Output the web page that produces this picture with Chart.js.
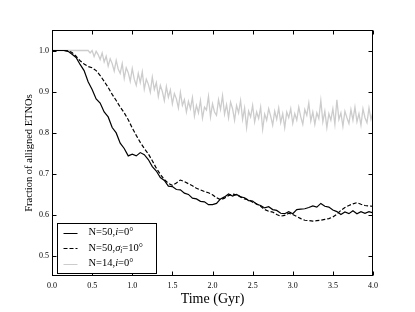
<!DOCTYPE html>
<html>
<head>
<meta charset="utf-8">
<script src="https://cdn.jsdelivr.net/npm/chart.js@4.4.1/dist/chart.umd.min.js"></script>
<style>
  html, body { margin: 0; padding: 0; background: #fff; }
  canvas { display: block; }
</style>
</head>
<body>
<canvas id="chart" width="415" height="312"></canvas>
<script>
// time axis for the two N=50 runs (Gyr)
const timeBlack = [
  0.00, 0.05, 0.10, 0.15, 0.20, 0.25, 0.30, 0.35, 0.40, 0.45,
  0.50, 0.55, 0.60, 0.65, 0.70, 0.75, 0.80, 0.85, 0.90, 0.95,
  1.00, 1.05, 1.10, 1.15, 1.20, 1.25, 1.30, 1.35, 1.40, 1.45,
  1.50, 1.55, 1.60, 1.65, 1.70, 1.75, 1.80, 1.85, 1.90, 1.95,
  2.00, 2.05, 2.10, 2.15, 2.20, 2.25, 2.30, 2.35, 2.40, 2.45,
  2.50, 2.55, 2.60, 2.65, 2.70, 2.75, 2.80, 2.85, 2.90, 2.95,
  3.00, 3.05, 3.10, 3.15, 3.20, 3.25, 3.30, 3.35, 3.40, 3.45,
  3.50, 3.55, 3.60, 3.65, 3.70, 3.75, 3.80, 3.85, 3.90, 3.95,
  4.00
];
// N=50, i=0
const fracSolid = [
  1.000, 1.000, 1.000, 1.000, 0.998, 0.991, 0.983, 0.966, 0.951, 0.924,
  0.905, 0.882, 0.872, 0.850, 0.838, 0.812, 0.799, 0.774, 0.761, 0.743,
  0.747, 0.743, 0.751, 0.746, 0.734, 0.717, 0.706, 0.690, 0.683, 0.669,
  0.668, 0.661, 0.660, 0.652, 0.649, 0.640, 0.638, 0.632, 0.631, 0.624,
  0.624, 0.627, 0.638, 0.643, 0.650, 0.645, 0.649, 0.643, 0.641, 0.634,
  0.633, 0.625, 0.622, 0.616, 0.619, 0.612, 0.610, 0.603, 0.602, 0.607,
  0.602, 0.612, 0.613, 0.614, 0.617, 0.621, 0.618, 0.627, 0.620, 0.618,
  0.611, 0.607, 0.600, 0.606, 0.602, 0.609, 0.602, 0.607, 0.603, 0.607,
  0.604
];
// N=50, sigma_i=10
const fracDashed = [
  1.000, 1.000, 1.000, 1.000, 0.999, 0.995, 0.986, 0.975, 0.967, 0.961,
  0.958, 0.951, 0.939, 0.925, 0.910, 0.893, 0.878, 0.862, 0.848, 0.831,
  0.811, 0.793, 0.776, 0.761, 0.748, 0.731, 0.713, 0.698, 0.685, 0.676,
  0.671, 0.677, 0.684, 0.680, 0.675, 0.670, 0.664, 0.660, 0.656, 0.653,
  0.648, 0.641, 0.636, 0.640, 0.646, 0.650, 0.648, 0.643, 0.638, 0.636,
  0.630, 0.626, 0.620, 0.612, 0.608, 0.606, 0.600, 0.596, 0.598, 0.603,
  0.600, 0.595, 0.590, 0.586, 0.585, 0.584, 0.585, 0.586, 0.588, 0.590,
  0.594, 0.601, 0.610, 0.617, 0.622, 0.626, 0.629, 0.625, 0.622, 0.621,
  0.620
];
// time axis for the N=14 run (Gyr)
const timeGray = [
  0.000, 0.100, 0.200, 0.300, 0.400,
  0.450, 0.475, 0.500, 0.525, 0.550, 0.575, 0.600, 0.625, 0.650, 0.675,
  0.700, 0.725, 0.750, 0.775, 0.800, 0.825, 0.850, 0.875, 0.900, 0.925,
  0.950, 0.975, 1.000, 1.025, 1.050, 1.075, 1.100, 1.125, 1.150, 1.175,
  1.200, 1.225, 1.250, 1.275, 1.300, 1.325, 1.350, 1.375, 1.400, 1.425,
  1.450, 1.475, 1.500, 1.525, 1.550, 1.575, 1.600, 1.625, 1.650, 1.675,
  1.700, 1.725, 1.750, 1.775, 1.800, 1.825, 1.850, 1.875, 1.900, 1.925,
  1.950, 1.975, 2.000, 2.025, 2.050, 2.075, 2.100, 2.125, 2.150, 2.175,
  2.200, 2.225, 2.250, 2.275, 2.300, 2.325, 2.350, 2.375, 2.400, 2.425,
  2.450, 2.475, 2.500, 2.525, 2.550, 2.575, 2.600, 2.625, 2.650, 2.675,
  2.700, 2.725, 2.750, 2.775, 2.800, 2.825, 2.850, 2.875, 2.900, 2.925,
  2.950, 2.975, 3.000, 3.025, 3.050, 3.075, 3.100, 3.125, 3.150, 3.175,
  3.200, 3.225, 3.250, 3.275, 3.300, 3.325, 3.350, 3.375, 3.400, 3.425,
  3.450, 3.475, 3.500, 3.525, 3.550, 3.575, 3.600, 3.625, 3.650, 3.675,
  3.700, 3.725, 3.750, 3.775, 3.800, 3.825, 3.850, 3.875, 3.900, 3.925,
  3.950, 3.975, 4.000
];
// N=14, i=0
const fracGray = [
  1.000, 1.000, 1.000, 1.000, 1.000,
  1.000, 0.994, 1.000, 0.985, 0.998, 0.990, 0.978, 0.994, 0.972, 0.986,
  0.962, 0.980, 0.968, 0.950, 0.976, 0.955, 0.944, 0.968, 0.932, 0.958,
  0.946, 0.925, 0.956, 0.930, 0.915, 0.944, 0.922, 0.948, 0.906, 0.930,
  0.918, 0.898, 0.935, 0.905, 0.922, 0.888, 0.915, 0.900, 0.878, 0.912,
  0.886, 0.904, 0.870, 0.895, 0.882, 0.860, 0.898, 0.866, 0.880, 0.850,
  0.876, 0.858, 0.885, 0.840, 0.866, 0.848, 0.878, 0.835, 0.862, 0.855,
  0.888, 0.838, 0.870, 0.850, 0.842, 0.880, 0.856, 0.890, 0.845, 0.868,
  0.836, 0.874, 0.858, 0.830, 0.866, 0.848, 0.878, 0.832, 0.860, 0.812,
  0.852, 0.838, 0.866, 0.826, 0.850, 0.834, 0.862, 0.808, 0.845, 0.830,
  0.858, 0.840, 0.818, 0.852, 0.832, 0.860, 0.824, 0.846, 0.812, 0.850,
  0.836, 0.858, 0.822, 0.846, 0.830, 0.862, 0.838, 0.820, 0.856, 0.842,
  0.872, 0.828, 0.850, 0.820, 0.848, 0.834, 0.878, 0.826, 0.852, 0.812,
  0.846, 0.830, 0.858, 0.820, 0.880, 0.832, 0.848, 0.815, 0.852, 0.836,
  0.822, 0.856, 0.830, 0.862, 0.826, 0.846, 0.818, 0.858, 0.836, 0.824,
  0.860, 0.832, 0.850
];

const xTicks = [0.0, 0.5, 1.0, 1.5, 2.0, 2.5, 3.0, 3.5, 4.0];
const yTicks = [0.5, 0.6, 0.7, 0.8, 0.9, 1.0];

const seriesLabels = ['N=50,i=0°', 'N=50,σi=10°', 'N=14,i=0°'];
// same labels split into pieces so the legend can set italics / subscript
const legendParts = [
  [{ text: 'N=50,' }, { text: 'i', italic: true }, { text: '=0°' }],
  [{ text: 'N=50,' }, { text: 'σ', italic: true }, { text: 'i', italic: true, sub: true }, { text: '=10°' }],
  [{ text: 'N=14,' }, { text: 'i', italic: true }, { text: '=0°' }]
];

const SERIF = '"Liberation Serif", "Times New Roman", serif';
const GRAY = '#cccccc';

function toPoints(xs, ys) {
    return xs.map((x, i) => ({ x: x, y: ys[i] }));
}

function drawRich(ctx, parts, x, y, size) {
    parts.forEach(p => {
        const s = p.sub ? size * 0.7 : size;
        ctx.font = (p.italic ? 'italic ' : '') + s + 'px ' + SERIF;
        ctx.fillText(p.text, x, p.sub ? y + size * 0.28 : y);
        x += ctx.measureText(p.text).width;
    });
}

// box around the plot + inward ticks on all four sides
const frameAndTicks = {
    id: 'frameAndTicks',
    afterDatasetsDraw(chart) {
        const { ctx, chartArea: a, scales } = chart;
        const L = Math.round(a.left) + 0.5, R = Math.round(a.right) - 0.5;
        const T = Math.round(a.top) + 0.5, B = Math.round(a.bottom) - 0.5;
        ctx.save();
        ctx.strokeStyle = '#000';
        ctx.lineWidth = 1;
        ctx.beginPath();
        xTicks.forEach(v => {
            const px = Math.round(scales.x.getPixelForValue(v)) + 0.5;
            ctx.moveTo(px, B); ctx.lineTo(px, B - 4);
            ctx.moveTo(px, T); ctx.lineTo(px, T + 4);
        });
        yTicks.forEach(v => {
            const py = Math.round(scales.y.getPixelForValue(v)) + 0.5;
            ctx.moveTo(L, py); ctx.lineTo(L + 4, py);
            ctx.moveTo(R, py); ctx.lineTo(R - 4, py);
        });
        ctx.stroke();
        ctx.strokeRect(L, T, R - L, B - T);
        ctx.restore();
    }
};

// legend box in the lower left corner of the plot
const cornerLegend = {
    id: 'cornerLegend',
    afterDraw(chart) {
        const { ctx, chartArea: a } = chart;
        const left = Math.round(a.left) + 5.5;
        const top = Math.round(a.bottom) - 52.5;
        const w = 99, h = 50;
        ctx.save();
        ctx.fillStyle = '#fff';
        ctx.fillRect(left, top, w, h);
        ctx.strokeStyle = '#000';
        ctx.lineWidth = 1;
        ctx.strokeRect(left, top, w, h);
        chart.data.datasets.forEach((ds, i) => {
            const y = top + 9 + i * 15.5;
            ctx.strokeStyle = ds.borderColor;
            ctx.lineWidth = 1;
            ctx.setLineDash(ds.borderDash || []);
            ctx.beginPath();
            ctx.moveTo(left + 6, Math.round(y) + 0.5);
            ctx.lineTo(left + 20, Math.round(y) + 0.5);
            ctx.stroke();
            ctx.setLineDash([]);
            ctx.fillStyle = '#000';
            ctx.textBaseline = 'middle';
            drawRich(ctx, legendParts[i], left + 31, y, 10.5);
        });
        ctx.restore();
    }
};

const ctx = document.getElementById('chart').getContext('2d');
new Chart(ctx, {
    type: 'line',
    data: {
        datasets: [
            {
                label: seriesLabels[0],
                data: toPoints(timeBlack, fracSolid),
                borderColor: '#000',
                borderWidth: 1.2,
                pointRadius: 0,
                tension: 0
            },
            {
                label: seriesLabels[1],
                data: toPoints(timeBlack, fracDashed),
                borderColor: '#000',
                borderWidth: 1.2,
                borderDash: [4, 2],
                pointRadius: 0,
                tension: 0
            },
            {
                label: seriesLabels[2],
                data: toPoints(timeGray, fracGray),
                borderColor: GRAY,
                borderWidth: 1.3,
                pointRadius: 0,
                tension: 0
            }
        ]
    },
    options: {
        responsive: false,
        animation: false,
        devicePixelRatio: 1,
        layout: { padding: { left: 0, right: 42, top: 30, bottom: 0 } },
        plugins: {
            legend: { display: false },
            tooltip: { enabled: false }
        },
        scales: {
            x: {
                type: 'linear',
                min: 0,
                max: 4,
                afterBuildTicks: s => { s.ticks = xTicks.map(v => ({ value: v })); },
                afterFit: s => { s.height = 36; },
                grid: { display: false, drawTicks: false },
                border: { display: false },
                ticks: {
                    padding: 5,
                    color: '#000',
                    font: { family: SERIF, size: 8 },
                    callback: v => v.toFixed(1)
                },
                title: {
                    display: true,
                    text: 'Time (Gyr)',
                    color: '#000',
                    font: { family: SERIF, size: 14 },
                    padding: { top: 0, bottom: 4 }
                }
            },
            y: {
                min: 0.45,
                max: 1.05,
                afterBuildTicks: s => { s.ticks = yTicks.map(v => ({ value: v })); },
                afterFit: s => { s.width = 52; },
                grid: { display: false, drawTicks: false },
                border: { display: false },
                ticks: {
                    padding: 3,
                    color: '#000',
                    font: { family: SERIF, size: 8 },
                    callback: v => v.toFixed(1)
                },
                title: {
                    display: true,
                    text: 'Fraction of alligned ETNOs',
                    color: '#000',
                    font: { family: SERIF, size: 10.5 },
                    padding: { top: 23, bottom: 0 }
                }
            }
        }
    },
    plugins: [frameAndTicks, cornerLegend]
});
</script>
</body>
</html>
